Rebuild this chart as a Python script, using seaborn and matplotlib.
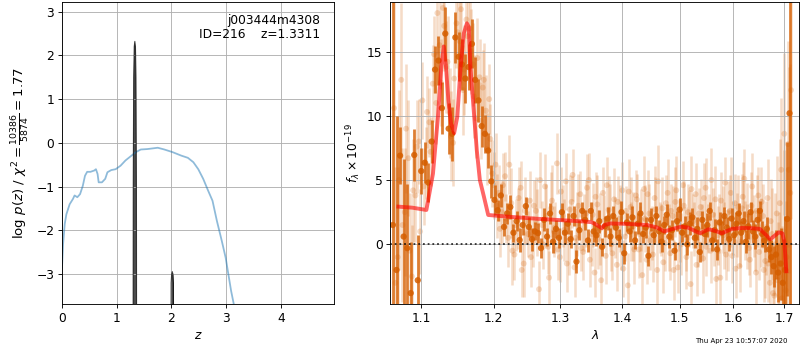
import numpy as np
import matplotlib
matplotlib.use("Agg")
import matplotlib.pyplot as plt
from matplotlib.ticker import ScalarFormatter, NullLocator
import seaborn as sns

# ---------------- left panel: redshift probability ----------------
pz_z = [0.0, 0.02, 0.05, 0.08, 0.14, 0.20, 0.23, 0.28, 0.33, 0.38, 0.42, 0.46, 0.52, 0.59,
        0.62, 0.65, 0.67, 0.73, 0.79, 0.83, 0.90, 0.98, 1.07, 1.16, 1.25, 1.35, 1.44, 1.56,
        1.75, 1.87, 2.02, 2.18, 2.30, 2.40, 2.49, 2.58, 2.67, 2.75, 2.83, 2.92, 2.99, 3.04,
        3.09, 3.14, 3.20]
pz_logp = [-2.85, -2.31, -1.85, -1.63, -1.40, -1.28, -1.20, -1.24, -1.17, -0.98, -0.75, -0.66,
           -0.66, -0.63, -0.60, -0.71, -0.90, -0.90, -0.82, -0.67, -0.62, -0.60, -0.52, -0.40,
           -0.31, -0.21, -0.15, -0.14, -0.11, -0.15, -0.21, -0.29, -0.34, -0.44, -0.60, -0.82,
           -1.09, -1.32, -1.78, -2.24, -2.62, -3.00, -3.38, -3.69, -4.30]

fine1_z = [1.298, 1.302, 1.310, 1.320, 1.331, 1.342, 1.352, 1.360, 1.364]
fine1_logp = [-6.0, -1.0, 1.5, 2.2, 2.32, 2.2, 1.5, -1.0, -6.0]
fine2_z = [1.990, 1.994, 2.004, 2.015, 2.026, 2.036, 2.040]
fine2_logp = [-6.0, -3.2, -3.0, -2.94, -3.0, -3.2, -6.0]

root_name = "j003444m4308"
obj_id = 216
z_best = 1.3311
chi2 = 10386
dof = 5874

# ---------------- right panel: spectrum ----------------
W0_DARK = 1.0630
W0_LIGHT_A = 1.0645
W0_LIGHT_B = 1.0661
DISP = 0.0046

dark_flux = [1.5, -2.0, 6.9, 0.6, -0.3, -3.8, 6.95, -2.8, 5.7, 6.35, 4.8,
             8.0, 13.6, 14.3, 10.6, 16.4, 9.0, 8.6, 16.1, 14.6, 14.0,
             12.9, 13.8, 15.6, 12.8, 11.2, 9.2, 8.6, 7.3, 4.9, 3.45,
             2.65, 3.8, 1.35, 2.4, 2.9, 0.9, 1.8, 0.33, 1.5, 2.97,
             1.35, 0.4, 1.0, 0.87, -0.3, 1.9, 0.6, 2.4, 0.2, 1.2,
             0.5, 2.5, 0.9, 1.6, 0.4, 2.2, -1.35, 1.1, 2.6, 1.9,
             0.3, 2.6, 1.0, 0.7, 1.8, -0.2, 1.4, 2.0, 0.6, 2.2,
             1.3, 0.5, 2.5, -0.7, 1.7, 1.0, 2.1, 0.3, 1.6, 2.4,
             0.8, 1.3, -0.9, 1.9, 0.7, 2.2, 1.0, 0.2, 1.5, 2.3,
             0.6, 1.1, -0.5, 1.8, 2.7, 0.9, 1.4, 0.0, 1.6, 2.1,
             0.5, 1.2, -0.6, 1.9, 0.8, 1.5, 2.6, 0.3, 1.1, -0.4,
             1.7, 0.9, 2.2, 1.3, 0.4, 2.0, 0.7, 1.6, 2.4, 0.9,
             1.8, 0.2, 1.4, 2.5, 1.0, 0.6, 1.9, 2.6, 0.8, 0.3,
             1.2, -0.4, -1.0, -1.7, -0.8, -2.2, -1.5, -3.0, -2.0, 1.97, 10.2]
dark_err = [20.0, 12.0, 2.2, 6.0, 5.0, 4.0, 2.0, 3.5, 1.8, 1.6, 1.5,
            1.7, 1.8, 1.9, 2.0, 2.1, 2.0, 2.1, 2.0, 1.9, 2.0,
            1.9, 1.8, 1.9, 1.8, 1.7, 1.6, 1.5, 1.4, 1.3, 1.2,
            0.8, 0.9, 0.7, 0.8, 0.9, 0.7, 0.8, 0.9, 0.8, 0.7,
            0.8, 0.9, 0.7, 0.8, 0.8, 0.9, 0.7, 0.8, 0.9, 0.7,
            0.8, 0.7, 0.9, 0.8, 0.7, 0.8, 0.9, 0.8, 0.7, 0.8,
            0.9, 0.7, 0.8, 0.8, 0.9, 0.7, 0.8, 0.9, 0.7, 0.8,
            0.8, 0.7, 0.9, 0.8, 0.7, 0.8, 0.9, 0.7, 0.8, 0.9,
            0.7, 0.8, 0.8, 0.9, 0.7, 0.8, 0.9, 0.8, 0.7, 0.8,
            0.9, 0.8, 0.7, 0.8, 0.9, 0.7, 0.8, 0.8, 0.9, 0.7,
            0.8, 0.9, 0.8, 0.7, 0.8, 0.9, 0.7, 0.8, 0.9, 0.8,
            0.8, 0.9, 0.7, 0.8, 0.9, 0.8, 0.7, 0.9, 0.8, 0.9,
            0.8, 0.9, 1.0, 0.8, 0.9, 1.0, 0.9, 0.8, 1.0, 0.9,
            0.9,
            1.0, 1.3, 1.6, 1.9, 2.3, 2.8, 3.4, 4.2, 6.0, 15.0]

light_a_flux = [10.6, -1.0, 12.8, 2.5, 6.7, -2.5, 3.8, 8.0, 11.2, 6.3, 9.5,
                12.5, 11.0, 15.5, 18.4, 13.8, 10.2, 7.9, 17.2, 15.8, 12.0,
                17.5, 16.8, 14.0, 9.8, 13.0, 12.2, 10.4, 11.3, 5.5, 6.2,
                4.0, 2.5, 5.3, 0.5, 3.2, -0.8, 2.0, 4.4, -1.5, 1.8,
                3.4, 0.2, 2.6, -3.5, 1.5, 4.5, -0.2, 2.8, 1.0, 6.3,
                -1.0, 2.2, 4.9, 0.3, 3.3, -1.8, 1.6, 3.9, -0.6, 2.4,
                5.0, 0.8, -2.2, 3.1, 1.2, 4.0, -0.9, 2.7, 0.0, 3.5,
                -1.6, 2.0, 4.2, 0.6, -3.2, 2.9, 1.4, 3.8, -0.4, 1.9,
                4.3, -1.2, 2.4, 0.9, 3.6, -2.0, 1.3, 2.8, 0.1, 4.0,
                -0.7, 2.2, 3.3, -1.8, 1.0, 4.6, 0.4, 2.5, -3.1, 1.8,
                3.9, 0.2, 2.9, -1.1, 4.4, 1.2, -0.5, 2.3, 3.5, 0.7,
                -2.6, 1.9, 4.8, 0.3, 2.6, -0.9, 3.2, 1.5, -1.7, 2.8,
                5.1, 0.6, -0.3, 3.0, 1.4, -2.2, 3.8, 0.9, 2.2, -1.3,
                3.6, -3.0, 0.8, -4.0, 2.4, -2.5, 5.8, 1.0, -3.6, 7.8, 4.0]
light_b_flux = [-3.0, 5.0, 1.5, 9.0, -0.5, 4.2, 7.6, 1.0, 4.5, 10.3, 7.2,
                14.8, 18.0, 12.6, 17.0, 14.2, 8.4, 12.9, 16.5, 18.3, 13.6,
                16.2, 15.0, 11.5, 14.5, 9.6, 12.8, 7.4, 8.2, 4.6, 3.0,
                1.2, 4.6, 2.0, 6.2, -0.5, 1.5, 3.6, -2.0, 2.6, 0.8,
                -1.0, 3.0, 1.7, 5.0, 0.0, 2.2, -2.6, 3.4, 1.3, -0.4,
                4.1, 1.1, -1.5, 2.7, 5.4, 0.5, 3.0, -0.3, 1.7, 4.4,
                -1.2, 2.3, 3.7, 0.4, -2.8, 1.8, 4.6, 2.1, -0.7, 1.3,
                3.3, 0.6, -1.9, 2.6, 4.1, 1.0, -0.4, 3.5, 0.8, -2.4,
                2.0, 3.9, 0.3, -0.8, 2.7, 4.9, 1.1, -1.4, 3.2, 0.5,
                2.6, -2.0, 4.2, 1.5, 0.0, 3.0, -1.0, 2.0, 4.3, 1.2,
                -1.6, 2.4, 0.9, 3.6, -0.2, 2.0, 5.0, 0.4, -2.7, 1.6,
                3.4, 0.7, -0.8, 2.5, 4.0, 1.3, -1.9, 2.9, 0.2, 3.7,
                1.1, 2.3, -1.2, 4.5, 0.3, 2.6, -0.6, 3.3, -2.0, 0.5,
                -1.5, 1.8, -3.8, 0.0, -2.8, 3.2, -4.2, 8.6, -1.0, 5.8, 12.0]
light_err = [9.0, 7.0, 6.0, 5.0, 4.5, 4.0, 3.6, 3.3, 3.0, 2.8, 2.7,
             3.0, 3.2, 3.4, 3.5, 3.6, 3.5, 3.4, 3.5, 3.6, 3.5,
             3.4, 3.3, 3.2, 3.1, 3.0, 2.9, 2.8, 2.7, 2.6, 2.5,
             2.2, 2.5, 1.9, 2.3, 2.7, 2.0, 2.4, 2.1, 2.6, 1.8,
             2.3, 2.0, 2.6, 2.2, 1.9, 2.5, 2.1, 2.8, 2.0, 2.4,
             1.9, 2.4, 2.2, 2.7, 2.0, 2.3, 2.5, 1.8, 2.2, 2.6,
             2.1, 2.5, 1.9, 2.3, 2.8, 2.0, 2.2, 2.6, 2.1, 2.4,
             2.0, 2.6, 2.2, 1.9, 2.5, 2.3, 2.7, 2.0, 2.2, 2.4,
             2.6, 1.9, 2.3, 2.1, 2.5, 2.8, 2.0, 2.4, 2.2, 2.6,
             2.1, 2.3, 2.7, 2.0, 2.4, 1.9, 2.5, 2.2, 2.6, 2.1,
             2.4, 2.0, 2.2, 2.7, 2.3, 1.9, 2.5, 2.1, 2.6, 2.3,
             2.2, 2.6, 2.0, 2.4, 2.8, 2.1, 2.3, 2.5, 2.0, 2.7,
             2.3, 2.5, 2.1, 2.6, 2.4, 2.8, 2.2, 2.7, 2.5, 2.9,
             3.0, 3.3, 3.6, 4.0, 4.5, 5.0, 5.6, 6.3, 7.0, 8.0, 10.0]

model_wave = [1.070, 1.088, 1.1066, 1.1154, 1.1221, 1.1266, 1.1300, 1.1330, 1.1362, 1.1398,
              1.1441, 1.1485, 1.1530, 1.1574, 1.1618, 1.1645, 1.1667, 1.1713, 1.1757, 1.1800,
              1.1858, 1.1919, 1.220, 1.260, 1.300, 1.335, 1.3495, 1.358, 1.3663, 1.3705,
              1.380, 1.400, 1.419, 1.4426, 1.460, 1.4726, 1.488, 1.5028, 1.515, 1.527,
              1.5376, 1.5531, 1.565, 1.578, 1.5973, 1.6173, 1.635, 1.6515, 1.662, 1.6724,
              1.6899, 1.697, 1.701, 1.705]
model_flux = [2.93, 2.85, 2.67, 5.5, 9.93, 13.8, 15.4, 13.8, 11.2, 9.4,
              8.65, 9.93, 13.8, 16.4, 17.2, 16.9, 13.8, 10.45, 7.3, 5.0,
              3.7, 2.28, 2.15, 2.0, 1.88, 1.78, 1.72, 1.5, 1.25, 1.5,
              1.62, 1.6, 1.56, 1.5, 1.3, 1.0, 1.2, 1.37, 1.3, 1.05,
              0.86, 1.17, 1.05, 0.86, 1.2, 1.27, 1.25, 1.2, 0.8, 0.39,
              0.93, 0.85, 0.2, -2.1]

wave_ticks = [1.1, 1.2, 1.3, 1.4, 1.5, 1.6, 1.7]
timestamp = "Thu Apr 23 10:57:07 2020"

# ---------------- figure ----------------
plt.rcParams['font.family'] = ['DejaVu Sans']
plt.rcParams['font.size'] = 11
plt.rcParams['mathtext.fontset'] = 'dejavusans'
GRISM_COLOR = (0.8352941176470589, 0.3686274509803922, 0.0)

fig = plt.figure(figsize=(10, 4.375), dpi=80)
ax1 = fig.add_axes([0.0775, 0.1314, 0.34, 0.8629])
ax2 = fig.add_axes([0.488, 0.1314, 0.511, 0.8629])

# left
ylo = max(pz_logp + fine1_logp) - 6
yhi = max(pz_logp + fine1_logp) + 0.9
sns.lineplot(x=pz_z, y=pz_logp, ax=ax1, color='tab:blue', alpha=0.5, lw=1.6,
             estimator=None, sort=False)
for zz, lp in [(fine1_z, fine1_logp), (fine2_z, fine2_logp)]:
    ax1.fill_between(zz, lp, -10, color='k', alpha=0.7, lw=0)
    sns.lineplot(x=zz, y=lp, ax=ax1, color='k', alpha=0.7, lw=1, estimator=None, sort=False)
ax1.set_xlim(0, 4.97)
ax1.set_ylim(ylo, yhi)
ax1.set_xticks([0, 1, 2, 3, 4])
ax1.set_yticks([-3, -2, -1, 0, 1, 2, 3])
ax1.grid(True)
ax1.set_xlabel(r'$z$')
ax1.set_ylabel(r'$\log\,p(z)$' + ' / ' +
               r'$\chi^2=\frac{%d}{%d}=%.2f$' % (chi2, dof, chi2 / dof), fontsize=12)
ax1.text(0.95, 0.96, '%s\nID=%d    z=%.4f' % (root_name, obj_id, z_best),
         ha='right', va='top', transform=ax1.transAxes, fontsize=11, linespacing=1.05)

# right
ax2.set_xscale('log')
beams = [(W0_LIGHT_A, light_a_flux), (W0_LIGHT_B, light_b_flux)]
for w0, fl in beams:
    w = w0 + DISP * np.arange(len(fl))
    ax2.errorbar(w, fl, yerr=light_err, fmt='none', ecolor=GRISM_COLOR, alpha=0.22,
                 elinewidth=2.3, zorder=1)
    sns.scatterplot(x=w, y=fl, ax=ax2, color=GRISM_COLOR, alpha=0.22, s=28,
                    edgecolor='none', zorder=1)

wd = W0_DARK + DISP * np.arange(len(dark_flux))
ax2.errorbar(wd, dark_flux, yerr=dark_err, fmt='none', ecolor=GRISM_COLOR, alpha=0.8,
             elinewidth=2.5, zorder=2)
sns.scatterplot(x=wd, y=dark_flux, ax=ax2, color=GRISM_COLOR, alpha=0.85, s=32,
                edgecolor='none', zorder=2)

sns.lineplot(x=model_wave, y=model_flux, ax=ax2, color='r', alpha=0.6, lw=3.5,
             estimator=None, sort=False, zorder=3)
ax2.axhline(0, color='k', linestyle=':', lw=1.6, alpha=0.8, zorder=4)

ax2.set_xlim(1.0598, 1.7316)
ax2.set_ylim(-4.65, 18.86)
ax2.set_xticks(wave_ticks)
ax2.xaxis.set_major_formatter(ScalarFormatter())
ax2.xaxis.set_minor_locator(NullLocator())
ax2.set_yticks([0, 5, 10, 15])
ax2.grid(True)
ax2.set_xlabel(r'$\lambda$')
ax2.set_ylabel(r'$f_\lambda \times 10^{-19}$')

fig.text(0.984, 0.018, timestamp, ha='right', va='bottom', fontsize=6.3)

fig.savefig('out.png', dpi=80)
